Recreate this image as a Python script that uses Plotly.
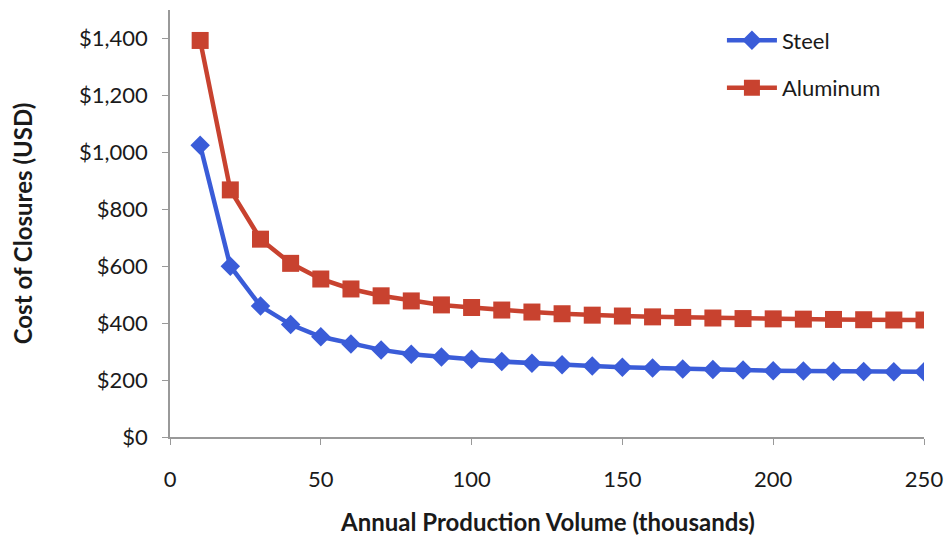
import plotly.graph_objects as go

# Annual production volume (thousands of units)
volume = [10, 20, 30, 40, 50, 60, 70, 80, 90, 100, 110, 120, 130,
          140, 150, 160, 170, 180, 190, 200, 210, 220, 230, 240, 250]

# Cost of closures (USD) per material
steel_cost = [1025, 600, 460, 395, 352, 327, 306, 291, 281, 273, 265, 259, 254,
              249, 245, 242, 239, 237, 235, 233, 232, 231, 230, 229, 229]
aluminum_cost = [1393, 868, 695, 610, 555, 520, 496, 478, 464, 455, 446, 439, 433,
                 428, 425, 422, 420, 418, 416, 415, 414, 413, 412, 411, 411]

y_ticks = [0, 200, 400, 600, 800, 1000, 1200, 1400]
y_tick_labels = ["$0", "$200", "$400", "$600", "$800", "$1,000", "$1,200", "$1,400"]
x_ticks = [0, 50, 100, 150, 200, 250]

FONT = "Lato, 'Open Sans', sans-serif"
STEEL = "#3A5CD8"
ALUMINUM = "#C8422F"

fig = go.Figure()
fig.add_trace(go.Scatter(
    x=volume, y=steel_cost, name="Steel", mode="lines+markers",
    legendgroup="steel",
    line=dict(color=STEEL, width=4.5),
    marker=dict(symbol="diamond", size=15, color=STEEL),
))
fig.add_trace(go.Scatter(
    x=volume, y=aluminum_cost, name="Aluminum", mode="lines+markers",
    legendgroup="aluminum",
    line=dict(color=ALUMINUM, width=4.5),
    marker=dict(symbol="square", size=17, color=ALUMINUM),
))

# x-axis title placed as an annotation below the tick labels
fig.add_annotation(
    text="<b>Annual Production Volume (thousands)</b>",
    xref="paper", yref="paper", x=0.5, y=-0.198,
    xanchor="center", yanchor="middle", showarrow=False,
    font=dict(family=FONT, size=24, color="#1a1a1a"),
)

fig.update_layout(
    width=949, height=540,
    margin=dict(l=170, r=25, t=10, b=103),
    paper_bgcolor="white", plot_bgcolor="white",
    font=dict(family=FONT, size=22, color="#1a1a1a"),
    showlegend=True,
    legend=dict(x=0.732, y=0.978, xanchor="left", yanchor="top",
                bgcolor="rgba(0,0,0,0)", tracegroupgap=16, itemwidth=50,
                font=dict(size=22, color="#1a1a1a")),
    xaxis=dict(
        range=[0, 250], tickvals=x_ticks, showgrid=False, zeroline=False,
        showline=True, linecolor="#999", linewidth=1.5,
        ticks="outside", ticklen=6, tickcolor="#999",
        tickfont=dict(size=22), ticklabelstandoff=16, automargin=False,
    ),
    yaxis=dict(
        range=[0, 1500], tickvals=y_ticks, ticktext=y_tick_labels,
        showgrid=False, zeroline=False,
        showline=True, linecolor="#999", linewidth=1.5,
        ticks="outside", ticklen=6, tickcolor="#999",
        tickfont=dict(size=22), ticklabelstandoff=10,
        title=dict(text="<b>Cost of Closures (USD)</b>",
                   font=dict(size=24), standoff=40),
    ),
)

fig.write_html("out.html")
